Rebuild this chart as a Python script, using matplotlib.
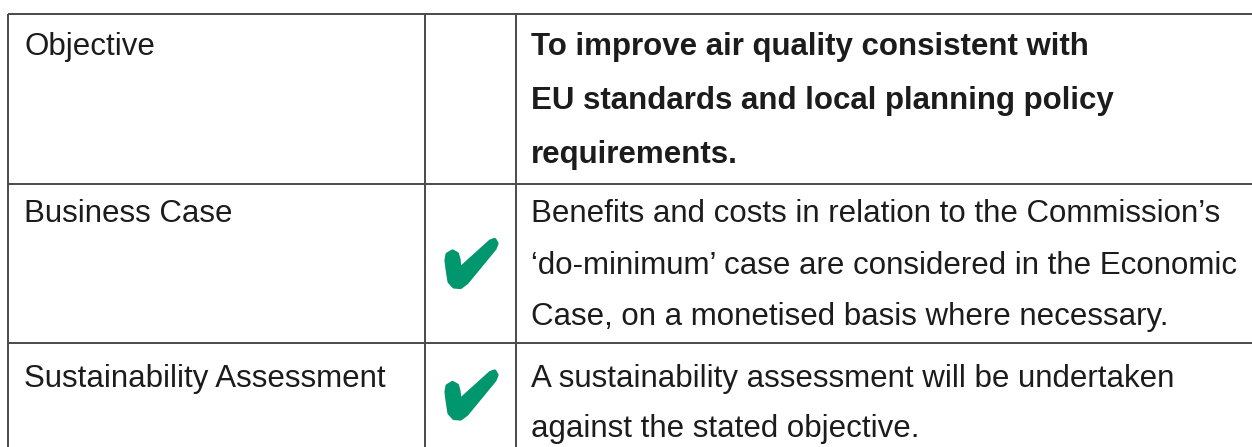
import matplotlib
matplotlib.use("Agg")
import matplotlib.pyplot as plt
from matplotlib.patches import Polygon
from matplotlib.transforms import Affine2D

# ---- data ----
criteria = ["Objective", "Business Case", "Sustainability Assessment"]
checked = [False, True, True]
descriptions = [
    ["To improve air quality consistent with",
     "EU standards and local planning policy",
     "requirements."],
    ["Benefits and costs in relation to the Commission\u2019s",
     "\u2018do-minimum\u2019 case are considered in the Economic",
     "Case, on a monetised basis where necessary."],
    ["A sustainability assessment will be undertaken",
     "against the stated objective."],
]
bold_desc = [True, False, False]

# ---- layout ----
W, H = 1252, 447
fig = plt.figure(figsize=(W / 100, H / 100), dpi=100)
ax = fig.add_axes([0, 0, 1, 1])
ax.set_xlim(0, W)
ax.set_ylim(H, 0)
ax.axis("off")

line_col = "#4a4a4a"
lw = 1.4
left, top = 8, 14
col_x = [425, 516]
row_y = [14, 184, 343]
row_gap = [54, 51.5, 50]
base_off = [41, 38, 44]
text_col = "#1c1c1c"
green = "#00966e"
fam = ["Liberation Sans", "DejaVu Sans"]
fs = 22.5
check_size = 50

for y in row_y:
    ax.plot([left, W], [y, y], color=line_col, lw=lw, solid_capstyle="butt")
for x in [left] + col_x:
    ax.plot([x, x], [top, H], color=line_col, lw=lw, solid_capstyle="butt")

# check-mark outline in unit coordinates (centre at 0,0; y downwards)
check_shape = [(-0.46, -0.18), (-0.36, -0.24), (-0.27, -0.19), (-0.24, -0.08),
               (-0.22, 0.12), (0.40, -0.44), (0.48, -0.47), (0.52, -0.40),
               (0.48, -0.30), (-0.08, 0.38), (-0.20, 0.47), (-0.33, 0.46),
               (-0.42, 0.36), (-0.46, 0.10), (-0.48, -0.06)]

for i, (crit, chk, desc) in enumerate(zip(criteria, checked, descriptions)):
    yb = row_y[i] + base_off[i]
    ax.text(24, yb, crit, fontsize=fs, color=text_col, family=fam,
            va="baseline", ha="left")
    for j, line in enumerate(desc):
        ax.text(531, yb + j * row_gap[i], line, fontsize=fs, color=text_col,
                family=fam, fontweight="bold" if bold_desc[i] else "normal",
                va="baseline", ha="left")
    if chk:
        rb = row_y[i + 1] if i + 1 < len(row_y) else H
        cx = (col_x[0] + col_x[1]) / 2
        cy = (row_y[i] + rb) / 2
        tr = Affine2D().scale(check_size, check_size).translate(cx, cy) + ax.transData
        ax.add_patch(Polygon(check_shape, closed=True, facecolor=green,
                             edgecolor=green, lw=3, joinstyle="round",
                             transform=tr))

fig.savefig("out.png", dpi=100)
